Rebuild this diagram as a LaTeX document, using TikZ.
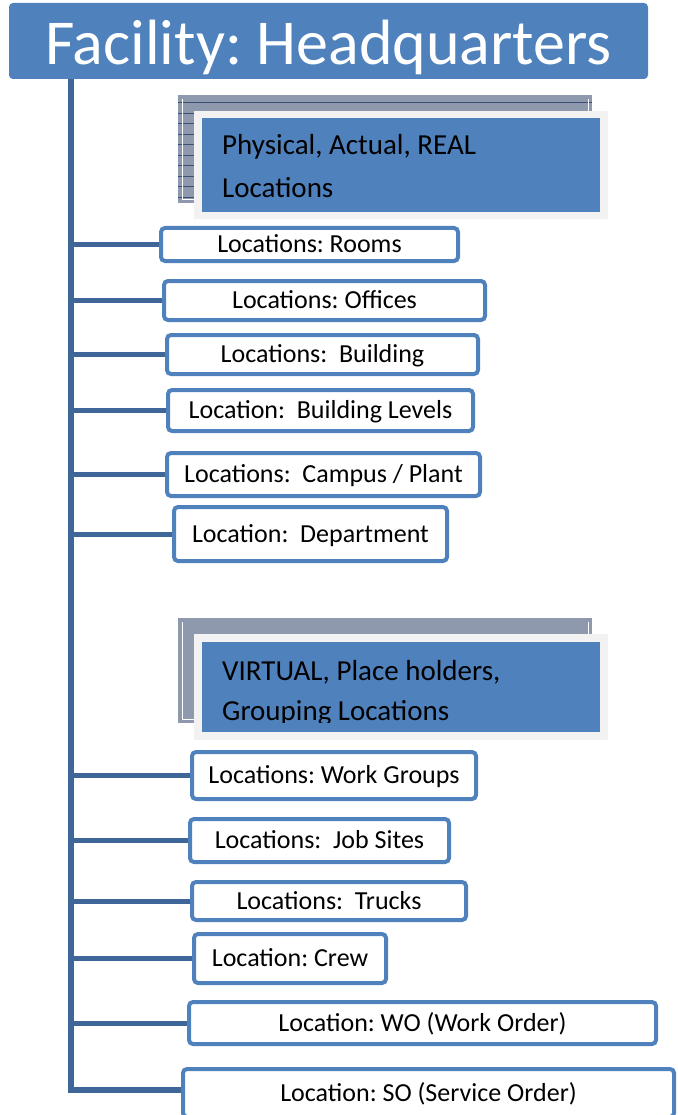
\documentclass[tikz,border=0pt]{standalone}
\usepackage{fontspec}
\setmainfont{Carlito}
\usetikzlibrary{backgrounds}
\frenchspacing
\definecolor{hdrblue}{HTML}{4F81BD}
\definecolor{trunkblue}{HTML}{3F6698}
\definecolor{framegray}{HTML}{F2F2F2}
\definecolor{patgray}{HTML}{8E99AE}
\definecolor{patline}{HTML}{3A5075}
\tikzset{
  locbox/.style={draw=hdrblue, line width=4pt, rounded corners=4pt, fill=white,
    inner sep=0pt, text height=16.7pt, text depth=0pt, font=\fontsize{26}{30}\selectfont},
  branch/.style={draw=trunkblue, line width=5pt},
  trunkline/.style={draw=trunkblue, line width=6pt, line join=miter},
  patbox/.style={fill=patgray, inner sep=0pt},
  framebox/.style={fill=framegray, inner sep=0pt},
  secbox/.style={fill=hdrblue, inner sep=0pt},
  sectext/.style={anchor=base west, inner sep=0pt, font=\fontsize{29}{34}\selectfont, text=black},
  hdrbox/.style={fill=hdrblue, rounded corners=4pt, inner sep=0pt, text=white,
    text height=47pt, text depth=0pt, font=\fontsize{64}{70}\selectfont}
}
\begin{document}
\begin{tikzpicture}[x=1pt,y=-1pt]
\useasboundingbox (0,0) rectangle (677,1115);
\clip (0,0) rectangle (677,1115);

% header
\node[hdrbox, minimum width=639pt, minimum height=76pt] (header) at (328.5,41) {Facility: Headquarters};

% physical section header
\node[patbox, minimum width=414pt, minimum height=108pt] (physback) at (385,149) {};
\foreach \k in {0,...,9} \draw[patline, line width=1pt] (178,{103+10.5*\k}) -- (592,{103+10.5*\k});
\draw[white, line width=0.8pt] (182,99) -- (182,199) -- (588,199) -- (588,99);
\node[framebox, minimum width=414pt, minimum height=108pt] (physframe) at (401,165) {};
\node[secbox, minimum width=398pt, minimum height=94pt] (phys) at (401,165) {};
\node[sectext] (phys1) at (222,155) {Physical, Actual, REAL};
\node[sectext] (phys2) at (222,198) {Locations};

% virtual section header
\node[patbox, minimum width=414pt, minimum height=105pt] (virtback) at (385,670.5) {};
\draw[white, line width=0.8pt] (182,622) -- (182,719) -- (588,719) -- (588,622);
\node[framebox, minimum width=414pt, minimum height=106pt] (virtframe) at (401,687) {};
\node[secbox, minimum width=398pt, minimum height=90pt] (virt) at (401,687) {};
\begin{scope}
  \clip (202,642) rectangle (600,722);
  \node[sectext] (virt1) at (222,680) {VIRTUAL, Place holders,};
  \node[sectext] (virt2) at (222,720) {Grouping Locations};
\end{scope}

% location boxes
\node[locbox, minimum width=297pt, minimum height=33pt] (r1) at (309.5,244.5) {Locations: Rooms};
\node[locbox, minimum width=321pt, minimum height=39pt] (r2) at (324.5,300.5) {Locations: Offices};
\node[locbox, minimum width=311pt, minimum height=39pt] (r3) at (322.5,354.5) {Locations:~ Building};
\node[locbox, minimum width=305pt, minimum height=41pt] (r4) at (320.5,410.5) {Location:~ Building Levels};
\node[locbox, minimum width=313pt, minimum height=43pt] (r5) at (323.5,474.5) {Locations:~ Campus / Plant};
\node[locbox, minimum width=273pt, minimum height=54pt] (r6) at (310.5,534) {Location:~ Department};
\node[locbox, minimum width=284pt, minimum height=47pt] (r7) at (334,775.5) {Locations: Work Groups};
\node[locbox, minimum width=259pt, minimum height=43pt] (r8) at (319.5,840.5) {Locations:~ Job Sites};
\node[locbox, minimum width=274pt, minimum height=38pt] (r9) at (329,901) {Locations:~ Trucks};
\node[locbox, minimum width=192pt, minimum height=49pt] (r10) at (290,958.5) {Location: Crew};
\node[locbox, minimum width=467pt, minimum height=42pt] (r11) at (422.5,1023) {Location: WO (Work Order)};
\node[locbox, minimum width=491pt, minimum height=48pt] (r12) at (428.5,1093) {Location: SO (Service Order)};

% connectors
\coordinate (top) at (71,79);
\coordinate (corner) at (71,1090);
\begin{scope}[on background layer]
  \draw[trunkline] (top) -- (corner) -- (corner -| r12.west);
  \foreach \n in {r1,r2,r3,r4,r5,r6,r7,r8,r9,r10,r11}
    \draw[branch] (top |- \n.west) -- (\n.west);
\end{scope}
\end{tikzpicture}
\end{document}
